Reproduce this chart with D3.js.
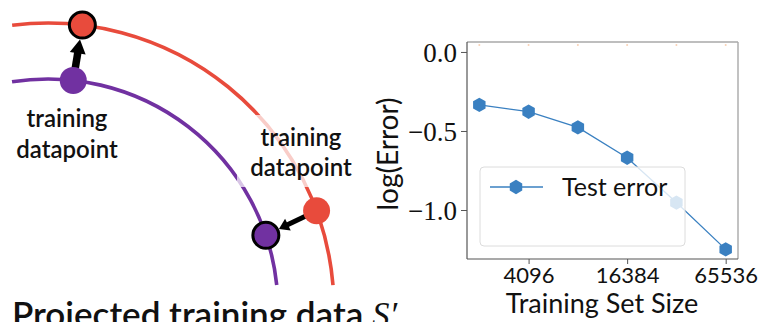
<!DOCTYPE html>
<html>
<head>
<meta charset="utf-8">
<script src="https://cdn.jsdelivr.net/npm/d3@7"></script>
<style>
  html, body { margin: 0; padding: 0; background: #fff; }
  svg { display: block; }
  text { font-family: "Lato", "Noto Sans", sans-serif; fill: #111; }
  .serif text, text.serif { font-family: "Liberation Serif", "DejaVu Serif", serif; }
</style>
</head>
<body>
<div id="fig"></div>
<script>
// ---- diagram data (angles in degrees, 0 = 12 o'clock, clockwise) ----
var ringNames  = ['projected', 'original'];
var ringColors = ['#e84b3c', '#7131a1'];
var ringStart  = [-7.2, -9.0];
var ringEnd    = [85.2, 84.0];
var dotRing    = [0, 1, 0, 1];
var dotAngle   = [6.9, 6.3, 69.9, 71.3];
var dotOutline = [true, false, false, true];
var arrowFrom  = [1, 2];   // dot index
var arrowTo    = [0, 3];
var labels     = [['training', 'datapoint'], ['training', 'datapoint']];

// ---- chart data ----
var sizes    = [2048, 4096, 8192, 16384, 32768, 65536];
var testErr  = [-0.335, -0.378, -0.477, -0.669, -0.953, -1.249];
var trainErr = [0.044, 0.044, 0.044, 0.044, 0.044, 0.044];
var xTicks   = [4096, 16384, 65536];
var yTicks   = [0, -0.5, -1.0];

var W = 760, H = 322;
var svg = d3.select('#fig').append('svg')
  .attr('xmlns', 'http://www.w3.org/2000/svg')
  .attr('width', W).attr('height', H);

svg.append('rect').attr('width', W).attr('height', H).attr('fill', '#fff');

// ================= left: diagram =================
var cx = 48, cy = 309;
var radius = d3.scaleOrdinal().domain(ringNames).range([286, 230]);
var rad = d3.scaleLinear().domain([0, 90]).range([0, Math.PI / 2]);
var pos = function(ring, deg) {
  var r = radius(ringNames[ring]), a = rad(deg);
  return [cx + r * Math.sin(a), cy - r * Math.cos(a)];
};

var diag = svg.append('g').attr('class', 'diagram');

diag.selectAll('.ring').data(ringNames).enter()
  .append('path')
  .attr('class', 'ring')
  .attr('d', function(d, i) {
    var p = d3.path();
    p.arc(cx, cy, radius(d), rad(ringStart[i]) - Math.PI / 2, rad(ringEnd[i]) - Math.PI / 2);
    return p.toString();
  })
  .attr('fill', 'none')
  .attr('stroke', function(d, i) { return ringColors[i]; })
  .attr('stroke-width', 3.6);

// translucent box behind the right-hand label
diag.append('rect')
  .attr('x', 237).attr('y', 115).attr('width', 125).attr('height', 72)
  .attr('fill', '#fff').attr('fill-opacity', 0.72);

var dots = dotAngle.map(function(a, i) {
  var p = pos(dotRing[i], a);
  return {x: p[0], y: p[1], ring: dotRing[i], outline: dotOutline[i]};
});
var dotR = function(d) { return d.outline ? 13 : 13.5; };

// arrows
arrowFrom.forEach(function(f, k) {
  var a = dots[f], b = dots[arrowTo[k]];
  var dx = b.x - a.x, dy = b.y - a.y, len = Math.sqrt(dx * dx + dy * dy);
  var ux = dx / len, uy = dy / len;
  var big = k === 0;
  var x0 = a.x + ux * (dotR(a) - 1), y0 = a.y + uy * (dotR(a) - 1);
  var x1 = b.x - ux * (dotR(b) + 1.5), y1 = b.y - uy * (dotR(b) + 1.5);
  var hl = big ? 14 : 10, hw = big ? 8 : 6.5, sw = big ? 7.5 : 5;
  var bx = x1 - ux * hl, by = y1 - uy * hl;
  diag.append('line')
    .attr('x1', x0).attr('y1', y0).attr('x2', bx + ux * 1).attr('y2', by + uy * 1)
    .attr('stroke', '#000').attr('stroke-width', sw);
  diag.append('path')
    .attr('d', 'M' + x1 + ',' + y1 +
      'L' + (bx - uy * hw) + ',' + (by + ux * hw) +
      'L' + (bx + uy * hw) + ',' + (by - ux * hw) + 'Z')
    .attr('fill', '#000');
});

diag.selectAll('.dot').data(dots).enter()
  .append('circle')
  .attr('class', 'dot')
  .attr('cx', function(d) { return d.x; })
  .attr('cy', function(d) { return d.y; })
  .attr('r', dotR)
  .attr('fill', function(d) { return ringColors[d.ring]; })
  .attr('stroke', function(d) { return d.outline ? '#000' : 'none'; })
  .attr('stroke-width', 3);

var labelPos = [[67, 127, 158], [301, 146, 176]];
labels.forEach(function(lines, i) {
  var t = diag.append('text')
    .attr('text-anchor', 'middle')
    .style('font-size', '24px')
    .style('font-weight', 600);
  lines.forEach(function(s, j) {
    t.append('tspan').attr('x', labelPos[i][0]).attr('y', labelPos[i][1 + j]).text(s);
  });
});

var title = diag.append('text')
  .attr('x', 12).attr('y', 327)
  .style('font-size', '35px')
  .style('font-weight', 600);
title.append('tspan').text('Projected training data ');
title.append('tspan')
  .style('font-family', '"Liberation Serif", serif')
  .style('font-weight', 400)
  .style('font-style', 'italic').text('S\u2032');

// ================= right: chart =================
var x = d3.scaleLog().base(2)
  .domain([Math.pow(2, 10.75), Math.pow(2, 16.25)])
  .range([467, 738]);
var y = d3.scaleLinear().domain([0.063, -1.31]).range([42, 259]);

var chart = svg.append('g').attr('class', 'chart');

// faint hidden series along the top
chart.selectAll('.train').data(sizes).enter()
  .append('circle')
  .attr('cx', function(d) { return x(d); })
  .attr('cy', function(d, i) { return y(trainErr[i]); })
  .attr('r', 1)
  .attr('fill', '#f4a46a').attr('fill-opacity', 0.5);

var line = d3.line()
  .x(function(d) { return x(d); })
  .y(function(d, i) { return y(testErr[i]); });

chart.append('path')
  .datum(sizes)
  .attr('d', line)
  .attr('fill', 'none')
  .attr('stroke', '#3a80c1')
  .attr('stroke-width', 1.3);

var hexagon = {
  draw: function(ctx, size) {
    var r = Math.sqrt(size / (1.5 * Math.sqrt(3)));
    for (var k = 0; k < 6; k++) {
      var a = Math.PI / 3 * k;
      var px = r * Math.sin(a), py = -r * Math.cos(a);
      if (k === 0) ctx.moveTo(px, py); else ctx.lineTo(px, py);
    }
    ctx.closePath();
  }
};
var hexPath = d3.symbol().type(hexagon).size(1.5 * Math.sqrt(3) * 7.2 * 7.2);

chart.selectAll('.pt').data(sizes).enter()
  .append('path')
  .attr('class', 'pt')
  .attr('transform', function(d, i) { return 'translate(' + x(d) + ',' + y(testErr[i]) + ')'; })
  .attr('d', hexPath)
  .attr('fill', '#3a80c1');

// frame
chart.append('line').attr('x1', 467).attr('x2', 738).attr('y1', 42).attr('y2', 42)
  .attr('stroke', '#a8a8a8').attr('stroke-width', 1.4);
chart.append('line').attr('x1', 738).attr('x2', 738).attr('y1', 42).attr('y2', 259)
  .attr('stroke', '#a8a8a8').attr('stroke-width', 1.4);
chart.append('line').attr('x1', 467).attr('x2', 467).attr('y1', 42).attr('y2', 259)
  .attr('stroke', '#555').attr('stroke-width', 1.2);
chart.append('line').attr('x1', 467).attr('x2', 738).attr('y1', 259).attr('y2', 259)
  .attr('stroke', '#555').attr('stroke-width', 1.2);

var xAxis = chart.append('g')
  .attr('transform', 'translate(0,259)')
  .call(d3.axisBottom(x).tickValues(xTicks).tickFormat(d3.format('d')).tickSize(5).tickPadding(3));
xAxis.select('.domain').remove();
xAxis.selectAll('line').attr('stroke', '#555');
xAxis.selectAll('text')
  .style('font-family', '"Lato", sans-serif')
  .style('font-size', '22px').attr('fill', '#111');

var yAxis = chart.append('g')
  .attr('class', 'serif')
  .attr('transform', 'translate(467,0)')
  .call(d3.axisLeft(y).tickValues(yTicks)
    .tickFormat(function(d) { return d === 0 ? '0.0' : '\u2212' + Math.abs(d).toFixed(1); })
    .tickSize(6).tickPadding(4));
yAxis.select('.domain').remove();
yAxis.selectAll('line').attr('stroke', '#555');
yAxis.selectAll('text')
  .style('font-size', '27px').attr('fill', '#111').attr('dy', '0.34em');

chart.append('text')
  .attr('x', 602).attr('y', 313)
  .attr('text-anchor', 'middle')
  .style('font-size', '27px')
  .text('Training Set Size');

chart.append('text')
  .attr('transform', 'translate(398,154) rotate(-90)')
  .attr('text-anchor', 'middle')
  .style('font-size', '28px')
  .text('log(Error)');

// legend
var leg = chart.append('g').attr('class', 'legend');
leg.append('rect')
  .attr('x', 480).attr('y', 167).attr('width', 205).attr('height', 79).attr('rx', 4)
  .attr('fill', '#fff').attr('fill-opacity', 0.8)
  .attr('stroke', '#dcdcdc').attr('stroke-width', 1);
leg.append('line')
  .attr('x1', 490).attr('x2', 543).attr('y1', 187).attr('y2', 187)
  .attr('stroke', '#3a80c1').attr('stroke-width', 1.3);
leg.append('path')
  .attr('transform', 'translate(516,187)')
  .attr('d', hexPath).attr('fill', '#3a80c1');
leg.append('text')
  .attr('x', 562).attr('y', 196)
  .style('font-size', '25px')
  .text('Test error');
</script>
</body>
</html>
